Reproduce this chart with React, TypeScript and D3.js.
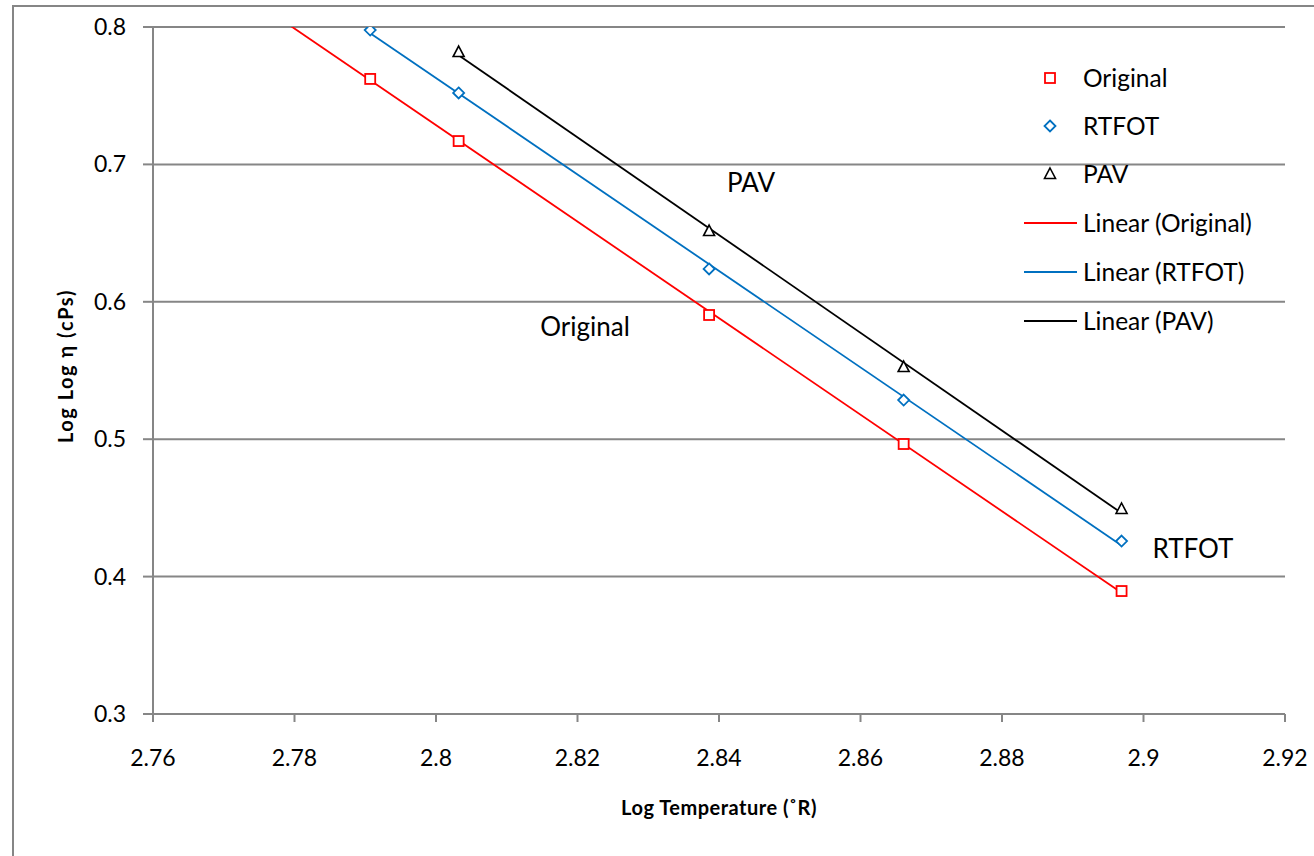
import React from "react";
import * as d3 from "d3";

const logT = [2.7779, 2.7907, 2.8032, 2.8386, 2.8661, 2.8969];
const originalY = [0.807, 0.7622, 0.717, 0.5904, 0.4965, 0.3895];
const rtfotX = [2.7907, 2.8032, 2.8386, 2.8661, 2.8969];
const rtfotY = [0.7978, 0.752, 0.6239, 0.5285, 0.4259];
const pavX = [2.8032, 2.8386, 2.8661, 2.8969];
const pavY = [0.7818, 0.6515, 0.5525, 0.4492];

const xTicks = [2.76, 2.78, 2.8, 2.82, 2.84, 2.86, 2.88, 2.9, 2.92];
const yTicks = [0.3, 0.4, 0.5, 0.6, 0.7, 0.8];
const xTickLabels = ["2.76", "2.78", "2.8", "2.82", "2.84", "2.86", "2.88", "2.9", "2.92"];
const yTickLabels = ["0.3", "0.4", "0.5", "0.6", "0.7", "0.8"];

const legendLabels = ["Original", "RTFOT", "PAV", "Linear (Original)", "Linear (RTFOT)", "Linear (PAV)"];

const FONT = "Lato, 'Liberation Sans', sans-serif";
const RED = "#FF0000";
const BLUE = "#0070C0";
const BLACK = "#000000";
const GRID = "#868686";

function fit(xs: number[], ys: number[]) {
  const n = xs.length;
  const mx = d3.mean(xs)!;
  const my = d3.mean(ys)!;
  let sxy = 0, sxx = 0;
  for (let i = 0; i < n; i++) {
    sxy += (xs[i] - mx) * (ys[i] - my);
    sxx += (xs[i] - mx) ** 2;
  }
  const b = sxy / sxx;
  const a = my - b * mx;
  const x0 = d3.min(xs)!, x1 = d3.max(xs)!;
  return [[x0, a + b * x0], [x1, a + b * x1]] as [number, number][];
}

export default function App() {
  const left = 153, right = 1285, top = 27, bottom = 714;
  const x = d3.scaleLinear().domain([2.76, 2.92]).range([left, right]);
  const y = d3.scaleLinear().domain([0.3, 0.8]).range([bottom, top]);
  const line = d3.line<[number, number]>().x(d => x(d[0])).y(d => y(d[1]));

  const series = [
    { xs: logT, ys: originalY, color: RED, shape: "square" },
    { xs: rtfotX, ys: rtfotY, color: BLUE, shape: "diamond" },
    { xs: pavX, ys: pavY, color: BLACK, shape: "triangle" },
  ];

  const marker = (shape: string, cx: number, cy: number, color: string, key: string) => {
    if (shape === "square")
      return <rect key={key} x={cx - 5} y={cy - 5} width={10} height={10} fill="white" stroke={color} strokeWidth={1.8} />;
    if (shape === "diamond")
      return <path key={key} d={`M${cx},${cy - 5.5}L${cx + 5.5},${cy}L${cx},${cy + 5.5}L${cx - 5.5},${cy}Z`} fill="white" stroke={color} strokeWidth={1.8} />;
    return <path key={key} d={`M${cx},${cy - 6}L${cx + 5.5},${cy + 4.5}L${cx - 5.5},${cy + 4.5}Z`} fill="white" stroke={color} strokeWidth={1.6} />;
  };

  const legendRowY = [78, 126, 174, 223, 272, 321];

  return (
    <div style={{ position: "absolute", left: 0, top: 0 }}>
      <svg width={1314} height={856} style={{ display: "block", background: "white" }}>
        <defs>
          <clipPath id="plot">
            <rect x={left} y={top} width={right - left} height={bottom - top} />
          </clipPath>
        </defs>
        <rect x={13} y={6} width={1400} height={900} fill="white" stroke={GRID} strokeWidth={2} />
        {yTicks.map((t, i) => (
          <g key={"gy" + i}>
            {i > 0 && <line x1={left} x2={right} y1={y(t)} y2={y(t)} stroke={GRID} strokeWidth={2} />}
            <line x1={left - 10} x2={left} y1={y(t)} y2={y(t)} stroke={GRID} strokeWidth={2} />
            <text x={126} y={y(t)} dy="0.35em" textAnchor="end" fontFamily={FONT} fontSize={23} fill="#000">
              {yTickLabels[i]}
            </text>
          </g>
        ))}
        <line x1={left} x2={left} y1={top} y2={bottom} stroke={GRID} strokeWidth={2} />
        <line x1={left} x2={right} y1={bottom} y2={bottom} stroke={GRID} strokeWidth={2} />
        {xTicks.map((t, i) => (
          <g key={"gx" + i}>
            <line x1={x(t)} x2={x(t)} y1={bottom} y2={bottom + 8} stroke={GRID} strokeWidth={2} />
            <text x={x(t)} y={758} dy="0.35em" textAnchor="middle" fontFamily={FONT} fontSize={23} fill="#000">
              {xTickLabels[i]}
            </text>
          </g>
        ))}
        <g clipPath="url(#plot)">
          {series.map((s, si) => (
            <path key={"tl" + si} d={line(fit(s.xs, s.ys))!} stroke={s.color} strokeWidth={1.8} fill="none" />
          ))}
          {series.map((s, si) =>
            s.xs.map((xv, i) => marker(s.shape, x(xv), y(s.ys[i]), s.color, `m${si}-${i}`))
          )}
        </g>
        <text x={751} y={183} dy="0.35em" textAnchor="middle" fontFamily={FONT} fontSize={26}>PAV</text>
        <text x={585} y={327} dy="0.35em" textAnchor="middle" fontFamily={FONT} fontSize={26}>Original</text>
        <text x={1193} y={549} dy="0.35em" textAnchor="middle" fontFamily={FONT} fontSize={26}>RTFOT</text>
        {legendLabels.map((lab, i) => {
          const ly = legendRowY[i];
          const s = series[i % 3];
          return (
            <g key={"lg" + i}>
              {i < 3
                ? marker(s.shape, 1050, ly, s.color, "lm" + i)
                : <line x1={1024} x2={1077} y1={ly} y2={ly} stroke={s.color} strokeWidth={1.8} />}
              <text x={1083} y={ly} dy="0.35em" fontFamily={FONT} fontSize={24.5} fill="#000">{lab}</text>
            </g>
          );
        })}
        <text x={719} y={808} dy="0.35em" textAnchor="middle" fontFamily={FONT} fontSize={20} fontWeight="bold" letterSpacing={0.5}>
          Log Temperature (˚R)
        </text>
        <text transform={`translate(66,366) rotate(-90)`} dy="0.35em" textAnchor="middle" fontFamily={FONT} fontSize={20} fontWeight="bold" letterSpacing={1.5}>
          Log Log η (cPs)
        </text>
      </svg>
    </div>
  );
}
